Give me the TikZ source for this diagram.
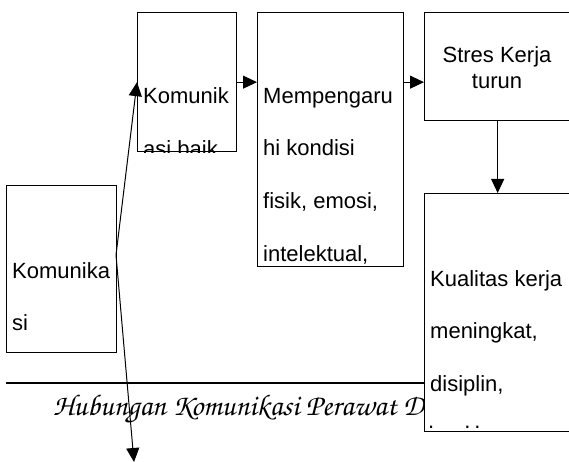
\documentclass[tikz,border=0pt]{standalone}
\usepackage{fontspec}
\setmainfont{Liberation Sans}
\newfontfamily\chorus{TeX Gyre Chorus}
\usetikzlibrary{arrows.meta}

\begin{document}
\begin{tikzpicture}[x=1pt, y=-1pt,
    kotak/.style={draw=black, line width=1.3pt, fill=white, inner sep=0pt, anchor=north west},
    isi/.style={anchor=base west, inner sep=0pt, align=left, font=\fontsize{22}{52.7}\selectfont},
    panah/.style={-{Triangle[length=14pt, width=13pt]}, line width=1pt}]

    \useasboundingbox (0,0) rectangle (569,462);

    % judul dan garis di bawah kotak
    \node[anchor=base west, inner sep=0pt, font=\chorus\fontsize{30}{30}\selectfont] (judul) at (53,415) {Hubungan Komunikasi Perawat D};
    \coordinate (gkiri) at (6,383);
    \coordinate (gkanan) at (424,383);
    \draw[line width=1.1pt] (gkiri) -- (gkanan);

    \node[kotak, minimum width=110, minimum height=167] (kom) at (6,185) {};
    \node[kotak, minimum width=99, minimum height=139] (komb) at (137,12) {};
    \node[kotak, minimum width=146, minimum height=254] (pengaruh) at (257,12) {};
    \node[kotak, minimum width=146, minimum height=108] (stres) at (424,12) {};
    \node[kotak, minimum width=146, minimum height=238] (kualitas) at (424,193) {};

    % base = garis dasar baris terakhir
    \node[isi] (t-kom) at (12,330.7) {Komunika\\si};
    \begin{scope}
        \clip (komb.north west) rectangle (komb.south east);
        \node[isi] (t-komb) at (143,156.7) {Komunik\\asi baik};
    \end{scope}
    \begin{scope}
        \clip (pengaruh.north west) rectangle (pengaruh.south east);
        \node[isi] (t-pengaruh) at (263,261.1) {Mempengaru\\hi kondisi\\fisik, emosi,\\intelektual,};
    \end{scope}
    \node[anchor=base, inner sep=0pt, align=center, font=\fontsize{22}{26}\selectfont] (t-stres) at (497,89) {Stres Kerja\\turun};
    \node[isi] (t-kualitas) at (430,391.4) {Kualitas kerja\\meningkat,\\disiplin,};
    \node[isi] (t-titik) at (428,428) {.\hspace{30pt}.\hspace{4pt}.};

    % panah
    \coordinate (cabang) at (116,255);
    \coordinate (bawah) at (134,462);
    \draw[panah] (cabang) -- (komb.west);
    \draw[panah] (cabang) -- (bawah);
    \draw[panah] (komb.east) -- (komb.east -| pengaruh.west);
    \draw[panah] (pengaruh.east |- komb.east) -- (stres.west |- komb.east);
    \draw[panah] (stres.south) -- (kualitas.north);

\end{tikzpicture}
\end{document}
